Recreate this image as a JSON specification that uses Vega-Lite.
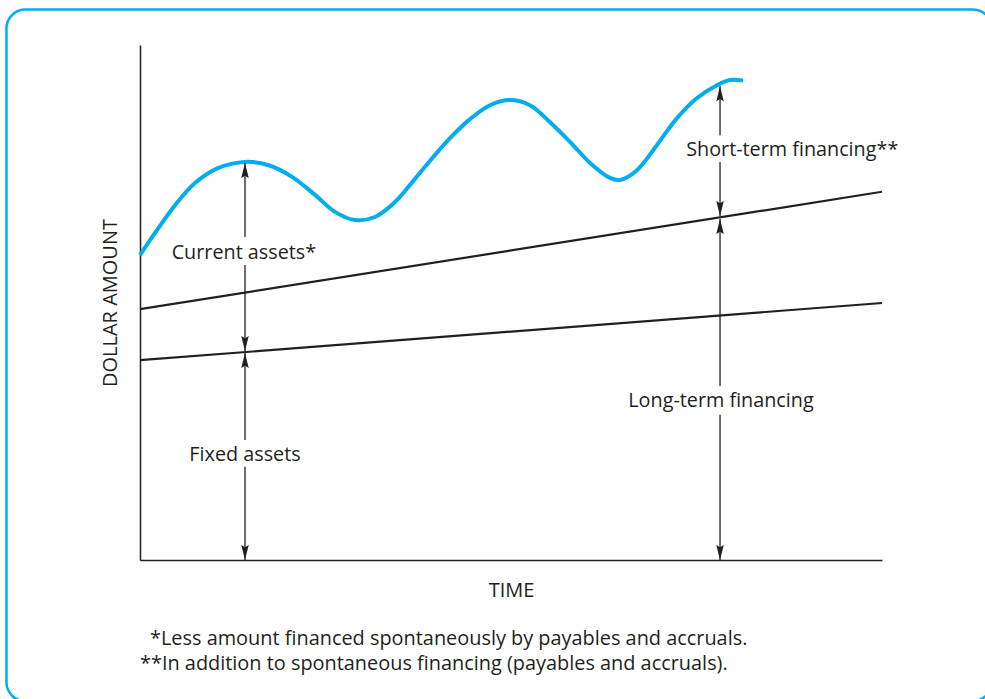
{
  "$schema": "https://vega.github.io/schema/vega-lite/v6.json",
  "autosize": "none",
  "width": 742,
  "height": 515,
  "padding": {"left": 140, "top": 45, "right": 103, "bottom": 139},
  "background": "white",
  "config": {"view": {"stroke": null}, "font": "Open Sans"},
  "datasets": {
    "frame": [{"t1": -18.0, "t2": 114.8, "v1": 106.9, "v2": -27.4}],
    "curve": [
      {"t": 0, "v": 59.2}, {"t": 2.02, "v": 63.5}, {"t": 4.72, "v": 68.9}, {"t": 7.41, "v": 73.2},
      {"t": 10.51, "v": 76.1}, {"t": 14.15, "v": 77.3}, {"t": 17.25, "v": 76.7}, {"t": 20.49, "v": 74.4},
      {"t": 23.58, "v": 70.9}, {"t": 26.28, "v": 67.6}, {"t": 28.98, "v": 66.0}, {"t": 31.67, "v": 66.6},
      {"t": 34.37, "v": 69.5}, {"t": 37.06, "v": 74.0}, {"t": 39.49, "v": 78.2}, {"t": 41.78, "v": 81.9},
      {"t": 44.47, "v": 85.6}, {"t": 47.17, "v": 88.3}, {"t": 49.87, "v": 89.3}, {"t": 52.56, "v": 88.3},
      {"t": 55.26, "v": 85.0}, {"t": 57.95, "v": 81.2}, {"t": 60.65, "v": 77.1}, {"t": 63.34, "v": 74.2},
      {"t": 64.69, "v": 73.8}, {"t": 66.98, "v": 75.7}, {"t": 69.68, "v": 80.6}, {"t": 72.37, "v": 85.8},
      {"t": 75.07, "v": 89.7}, {"t": 77.76, "v": 92.2}, {"t": 79.51, "v": 93.2}, {"t": 81.27, "v": 93.1}
    ],
    "lines": [
      {"series": "fixed", "t": 0, "v": 38.8}, {"series": "fixed", "t": 100, "v": 49.9},
      {"series": "permanent", "t": 0, "v": 48.7}, {"series": "permanent", "t": 100, "v": 71.5}
    ],
    "shafts": [
      {"t": 14.15, "v1": 77.1, "v2": 62.7}, {"t": 14.15, "v1": 57.3, "v2": 40.6},
      {"t": 14.15, "v1": 40.2, "v2": 23.3}, {"t": 14.15, "v1": 18.1, "v2": 0},
      {"t": 78.17, "v1": 92.0, "v2": 82.5}, {"t": 78.17, "v1": 77.3, "v2": 66.8},
      {"t": 78.17, "v1": 66.2, "v2": 33.8}, {"t": 78.17, "v1": 28.2, "v2": 0}
    ],
    "heads": [
      {"t": 14.15, "v": 77.1, "dir": "up"}, {"t": 14.15, "v": 40.6, "dir": "down"},
      {"t": 14.15, "v": 40.2, "dir": "up"}, {"t": 14.15, "v": 0, "dir": "down"},
      {"t": 78.17, "v": 92.0, "dir": "up"}, {"t": 78.17, "v": 66.8, "dir": "down"},
      {"t": 78.17, "v": 66.2, "dir": "up"}, {"t": 78.17, "v": 0, "dir": "down"}
    ],
    "labels": [
      {"label": "Current assets*", "t": 14.0, "v": 59.6},
      {"label": "Fixed assets", "t": 14.15, "v": 20.4},
      {"label": "Short-term financing**", "t": 87.9, "v": 79.7},
      {"label": "Long-term financing", "t": 78.3, "v": 30.8}
    ],
    "notes": [
      {"note": "*Less amount financed spontaneously by payables and accruals.", "t": 1.35, "v": -15.35},
      {"note": "**In addition to spontaneous financing (payables and accruals).", "t": 0, "v": -20.1}
    ]
  },
  "encoding": {
    "x": {"type": "quantitative", "scale": {"domain": [0, 100], "nice": false, "zero": false},
      "axis": {"title": "TIME", "labels": false, "ticks": false, "grid": false, "domainColor": "#231f20", "domainWidth": 1.5,
        "titleFont": "Open Sans", "titleFontSize": 20, "titleFontWeight": "normal", "titleColor": "#231f20", "titlePadding": 20}},
    "y": {"type": "quantitative", "scale": {"domain": [0, 100], "nice": false, "zero": false},
      "axis": {"title": "DOLLAR AMOUNT", "labels": false, "ticks": false, "grid": false, "domainColor": "#231f20", "domainWidth": 1.5,
        "titleFont": "Open Sans", "titleFontSize": 20, "titleFontWeight": "normal", "titleColor": "#231f20", "titlePadding": 20}}
  },
  "layer": [
    {
      "data": {"name": "frame"},
      "mark": {"type": "rect", "fillOpacity": 0, "stroke": "#00aeef", "strokeWidth": 2.5, "cornerRadius": 19},
      "encoding": {"x": {"field": "t1", "type": "quantitative"}, "x2": {"field": "t2"},
        "y": {"field": "v1", "type": "quantitative"}, "y2": {"field": "v2"}}
    },
    {
      "data": {"name": "lines"},
      "mark": {"type": "line", "color": "#231f20", "strokeWidth": 2.2},
      "encoding": {"x": {"field": "t", "type": "quantitative"}, "y": {"field": "v", "type": "quantitative"},
        "detail": {"field": "series"}}
    },
    {
      "data": {"name": "curve"},
      "mark": {"type": "line", "color": "#00aeef", "strokeWidth": 4, "interpolate": "catmull-rom"},
      "encoding": {"x": {"field": "t", "type": "quantitative"}, "y": {"field": "v", "type": "quantitative"}}
    },
    {
      "data": {"name": "shafts"},
      "mark": {"type": "rule", "color": "#231f20", "strokeWidth": 1.3},
      "encoding": {"x": {"field": "t", "type": "quantitative"}, "y": {"field": "v1", "type": "quantitative"}, "y2": {"field": "v2"}}
    },
    {
      "data": {"name": "heads"},
      "mark": {"type": "point", "filled": true, "color": "#231f20", "opacity": 1, "size": 225, "strokeWidth": 0},
      "encoding": {"x": {"field": "t", "type": "quantitative"}, "y": {"field": "v", "type": "quantitative"},
        "shape": {"field": "dir", "type": "nominal", "legend": null,
          "scale": {"domain": ["up", "down"], "range": ["M0,0L-0.5,2L0,1.7L0.5,2Z", "M0,0L-0.5,-2L0,-1.7L0.5,-2Z"]}}}
    },
    {
      "data": {"name": "labels"},
      "mark": {"type": "text", "fontSize": 19.8, "color": "#231f20", "align": "center", "baseline": "middle", "font": "Open Sans"},
      "encoding": {"x": {"field": "t", "type": "quantitative"}, "y": {"field": "v", "type": "quantitative"}, "text": {"field": "label"}}
    },
    {
      "data": {"name": "notes"},
      "mark": {"type": "text", "fontSize": 19.9, "color": "#231f20", "align": "left", "baseline": "middle", "font": "Open Sans"},
      "encoding": {"x": {"field": "t", "type": "quantitative"}, "y": {"field": "v", "type": "quantitative"}, "text": {"field": "note"}}
    }
  ]
}
